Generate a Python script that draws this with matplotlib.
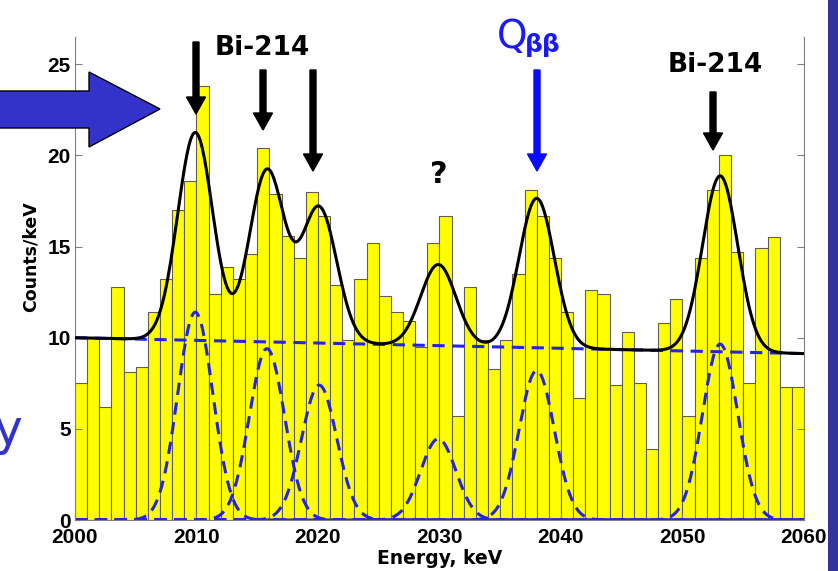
import numpy as np
import matplotlib
matplotlib.use('Agg')
import matplotlib.pyplot as plt
from matplotlib.patches import Polygon, FancyArrow, Rectangle
from matplotlib.transforms import IdentityTransform

# histogram: counts per 1 keV bin, 2000..2060 keV
bin_edges_lo = list(range(2000, 2060))
counts = [7.5, 10.0, 6.2, 12.8, 8.1, 8.4, 11.4, 13.2, 17.0, 18.6,
          23.8, 12.4, 13.9, 13.2, 14.6, 20.4, 17.9, 15.6, 14.4, 18.0,
          16.7, 12.9, 9.9, 13.2, 15.2, 12.3, 11.4, 10.9, 9.5, 15.2,
          16.7, 5.7, 12.8, 9.9, 8.3, 9.9, 13.5, 18.1, 16.7, 14.4,
          11.4, 6.7, 12.6, 12.4, 7.4, 10.3, 7.5, 3.9, 10.8, 12.1,
          5.7, 14.4, 18.1, 20.0, 14.7, 7.5, 14.9, 15.5, 7.3, 7.3]

# fit parameters
peak_centers = [2009.9, 2015.8, 2020.1, 2029.9, 2038.0, 2053.1]
peak_amps = [11.4, 9.4, 7.4, 4.45, 8.2, 9.65]
peak_sigma = 1.45
bkg_start = 10.0   # at 2000 keV
bkg_end = 9.13     # at 2060 keV

x_ticks = [2000, 2010, 2020, 2030, 2040, 2050, 2060]
y_ticks = [0, 5, 10, 15, 20, 25]

W, H = 838, 571
fig = plt.figure(figsize=(W / 100., H / 100.), dpi=100)
ax = fig.add_axes([75. / W, 1 - 520. / H, 729. / W, 483. / H])

ax.bar(bin_edges_lo, counts, width=1.0, align='edge', color='#ffff00',
       edgecolor='#5f5f50', linewidth=0.8, zorder=1)

E = np.linspace(2000, 2060, 1200)
bkg = bkg_start + (bkg_end - bkg_start) * (E - 2000) / 60.
blue = '#2323e6'
ax.plot(E, bkg, '--', color=blue, lw=2.2, dashes=(4, 2.5), zorder=2)
total = bkg.copy()
for c, a in zip(peak_centers, peak_amps):
    g = a * np.exp(-(E - c) ** 2 / (2 * peak_sigma ** 2))
    total += g
    ax.plot(E, g, '--', color=blue, lw=2.2, dashes=(4, 2.5), zorder=2)
ax.plot(E, total, color='black', lw=2.2, zorder=3)

ax.set_xlim(2000, 2060)
ax.set_ylim(0, 26.5)
ax.set_xticks(x_ticks)
ax.set_yticks(y_ticks)
for lab in ax.get_xticklabels() + ax.get_yticklabels():
    lab.set_fontfamily('Liberation Sans')
    lab.set_fontweight('bold')
    lab.set_fontsize(15)
ax.tick_params(axis='both', direction='in', length=5, color='#808080')
ax.tick_params(axis='y', right=True, pad=3)
ax.tick_params(axis='x', pad=6)
ax.spines['top'].set_visible(False)
for s in ['left', 'right', 'bottom']:
    ax.spines[s].set_color('#808080')

fig.text(31. / W, 1 - 257. / H, 'Counts/keV', rotation=90, ha='center', va='center',
         fontsize=12.5, fontweight='bold')
fig.text(440. / W, 1 - 564. / H, 'Energy, keV', ha='center', va='baseline',
         fontsize=13.5, fontweight='bold')

# annotations in pixel coordinates (image y measured from top)
pix = IdentityTransform()


def arrow(x, y0, y1, color):
    a = FancyArrow(x, H - y0, 0, -(y1 - y0), width=6, head_width=19, head_length=17,
                   length_includes_head=True, color=color, transform=pix)
    fig.add_artist(a)


arrow(196, 42, 114, 'black')
arrow(263, 70, 130, 'black')
arrow(313, 70, 171, 'black')
arrow(713, 92, 150, 'black')
arrow(537, 70, 171, '#0a0aff')

big = Polygon([(-5, H - 91), (89, H - 91), (89, H - 72), (160, H - 109),
               (89, H - 147), (89, H - 128), (-5, H - 128)],
              closed=True, facecolor='#3333cc', edgecolor='black', lw=1, transform=pix)
fig.add_artist(big)

fig.text(262. / W, 1 - 55. / H, 'Bi-214', ha='center', va='baseline',
         fontsize=19, fontweight='bold')
fig.text(715. / W, 1 - 72. / H, 'Bi-214', ha='center', va='baseline',
         fontsize=19, fontweight='bold')
fig.text(439. / W, 1 - 183. / H, '?', ha='center', va='baseline',
         fontsize=22, fontweight='bold')
fig.text(497. / W, 1 - 48. / H, 'Q', ha='left', va='baseline',
         fontsize=28, color='#1a1aff')
fig.text(525. / W, 1 - 52. / H, 'ββ', ha='left', va='baseline',
         fontsize=18, fontweight='bold', color='#1a1aff')
fig.text(-6. / W, 1 - 445. / H, 'y', ha='left', va='baseline',
         fontsize=35, color='#3333cc')

band = Rectangle((828, 0), 12, H, facecolor='#333399', edgecolor='none', transform=pix)
fig.add_artist(band)

fig.savefig('out.png', dpi=100)
